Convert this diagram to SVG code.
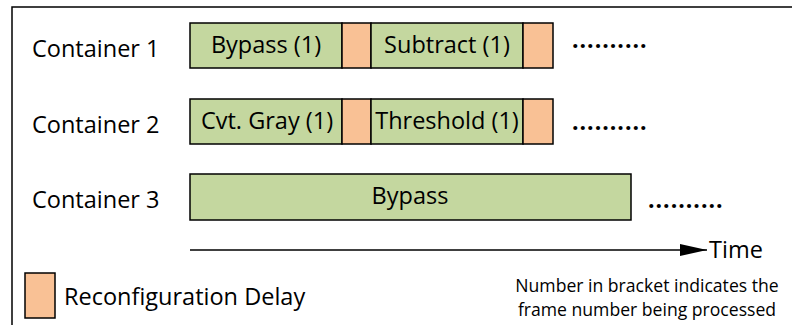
<svg xmlns="http://www.w3.org/2000/svg" width="792" height="325" viewBox="0 0 792 325">
  <defs>
    <style>
      .frame { fill: #ffffff; stroke: #000000; stroke-width: 1.5; }
      .task { fill: #C4D79F; stroke: #000000; stroke-width: 1.5; }
      .delay { fill: #F9C195; stroke: #000000; stroke-width: 1.5; }
      .lbl { font-family: "Open Sans", "Liberation Sans", sans-serif; font-size: 23.5px; fill: #000000; }
      .mid { text-anchor: middle; }
      .note { font-family: "Open Sans", "Liberation Sans", sans-serif; font-size: 17.6px; fill: #000000; text-anchor: middle; }
      .dots { font-family: "Open Sans", "Liberation Sans", sans-serif; font-size: 23px; font-weight: bold; letter-spacing: 1px; fill: #000000; }
      .axis { stroke: #000000; stroke-width: 1.6; fill: none; }
    </style>
    <marker id="arrow" viewBox="0 0 10 10" refX="10" refY="5" markerWidth="27" markerHeight="12" markerUnits="userSpaceOnUse" orient="auto" preserveAspectRatio="none">
      <path d="M0,0 L10,5 L0,10 Z" fill="#000000"/>
    </marker>
  </defs>

  <!-- outer frame, cut off at the right and bottom edges -->
  <rect class="frame" x="12" y="7" width="800" height="340"/>

  <!-- container 1 -->
  <g id="container1">
    <text class="lbl" x="32" y="57">Container 1</text>
    <rect class="task" x="190" y="23" width="152" height="45"/>
    <text class="lbl mid" x="266" y="53">Bypass (1)</text>
    <rect class="delay" x="342" y="23" width="29" height="45"/>
    <rect class="task" x="371" y="23" width="152" height="45"/>
    <text class="lbl mid" x="447" y="53">Subtract (1)</text>
    <rect class="delay" x="523" y="23" width="30" height="45"/>
    <text class="dots" x="572" y="48">..........</text>
  </g>

  <!-- container 2 -->
  <g id="container2">
    <text class="lbl" x="32" y="133">Container 2</text>
    <rect class="task" x="190" y="99" width="152" height="45"/>
    <text class="lbl mid" x="267" y="129">Cvt. Gray (1)</text>
    <rect class="delay" x="342" y="99" width="29" height="45"/>
    <rect class="task" x="371" y="99" width="152" height="45"/>
    <text class="lbl mid" x="447" y="129">Threshold (1)</text>
    <rect class="delay" x="523" y="99" width="30" height="45"/>
    <text class="dots" x="572" y="130">..........</text>
  </g>

  <!-- container 3 -->
  <g id="container3">
    <text class="lbl" x="32" y="208">Container 3</text>
    <rect class="task" x="190" y="174" width="441" height="46"/>
    <text class="lbl mid" x="410" y="204">Bypass</text>
    <text class="dots" x="648" y="208">..........</text>
  </g>

  <!-- time axis -->
  <g id="connectors">
    <line class="axis" x1="190" y1="250" x2="707" y2="250" marker-end="url(#arrow)"/>
  </g>
  <g id="time-label">
    <text class="lbl" x="709" y="258">Time</text>
  </g>

  <!-- legend -->
  <g id="legend">
    <rect class="delay" x="25" y="273" width="30" height="45"/>
    <text class="lbl" x="64" y="305">Reconfiguration Delay</text>
  </g>

  <!-- footnote -->
  <g id="note">
    <text class="note" x="647" y="292">Number in bracket indicates the</text>
    <text class="note" x="647" y="316">frame number being processed</text>
  </g>
</svg>
